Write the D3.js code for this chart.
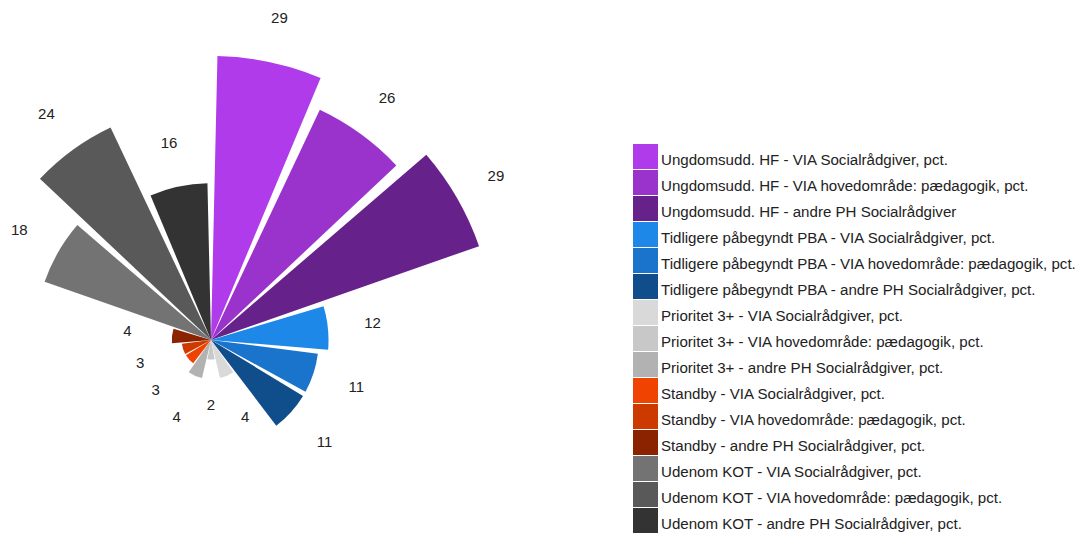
<!DOCTYPE html>
<html>
<head>
<meta charset="utf-8">
<script src="https://cdn.jsdelivr.net/npm/d3@7"></script>
<style>
  body { margin: 0; background: #fff; }
  text { font-family: "Liberation Sans", Arial, sans-serif; }
</style>
</head>
<body>
<svg></svg>
<script>
const categories = [
  "Ungdomsudd. HF - VIA Socialrådgiver, pct.",
  "Ungdomsudd. HF - VIA hovedområde: pædagogik, pct.",
  "Ungdomsudd. HF - andre PH Socialrådgiver",
  "Tidligere påbegyndt PBA - VIA Socialrådgiver, pct.",
  "Tidligere påbegyndt PBA - VIA hovedområde: pædagogik, pct.",
  "Tidligere påbegyndt PBA - andre PH Socialrådgiver, pct.",
  "Prioritet 3+ - VIA Socialrådgiver, pct.",
  "Prioritet 3+ - VIA hovedområde: pædagogik, pct.",
  "Prioritet 3+ - andre PH Socialrådgiver, pct.",
  "Standby - VIA Socialrådgiver, pct.",
  "Standby - VIA hovedområde: pædagogik, pct.",
  "Standby - andre PH Socialrådgiver, pct.",
  "Udenom KOT - VIA Socialrådgiver, pct.",
  "Udenom KOT - VIA hovedområde: pædagogik, pct.",
  "Udenom KOT - andre PH Socialrådgiver, pct."
];
const values = [29, 26, 29, 12, 11, 11, 4, 2, 4, 3, 3, 4, 18, 24, 16];
const colors = [
  "#b03bea", "#9a32cc", "#66228a",
  "#1e88e8", "#1b74cc", "#104e8b",
  "#d9d9d9", "#c8c8c8", "#b2b2b2",
  "#f04200", "#cc3a00", "#8b2200",
  "#737373", "#595959", "#333333"
];

const svg = d3.select("svg").attr("width", 1083).attr("height", 536);
const cx = 211, cy = 340;

const angle = d3.scaleBand()
  .domain(categories)
  .range([0, 2 * Math.PI]);

const radius = d3.scaleLinear()
  .domain([0, 29])
  .range([0, 284]);

const pad = 1.3 * Math.PI / 180;
const arc = d3.arc()
  .innerRadius(0)
  .outerRadius((d, i) => radius(values[i]))
  .startAngle((d) => angle(d) + pad)
  .endAngle((d) => angle(d) + angle.bandwidth() - pad);

const g = svg.append("g").attr("transform", `translate(${cx},${cy})`);

g.selectAll("path")
  .data(categories)
  .enter()
  .append("path")
  .attr("d", arc)
  .attr("fill", (d, i) => colors[i]);

// value labels just outside each wedge
const mid = (d) => angle(d) + angle.bandwidth() / 2;
g.selectAll("text.val")
  .data(categories)
  .enter()
  .append("text")
  .attr("class", "val")
  .attr("x", (d, i) => Math.sin(mid(d)) * (radius(values[i]) + 45))
  .attr("y", (d, i) => -Math.cos(mid(d)) * (radius(values[i]) + 45))
  .attr("text-anchor", "middle")
  .attr("dy", "0.35em")
  .attr("font-size", 15)
  .attr("fill", "#222")
  .text((d, i) => values[i]);

// legend
const row = 26;
const legend = svg.append("g").attr("transform", "translate(633,144)");
const item = legend.selectAll("g")
  .data(categories)
  .enter()
  .append("g")
  .attr("transform", (d, i) => `translate(0,${i * row})`);

item.append("rect")
  .attr("width", 25)
  .attr("height", 25)
  .attr("fill", (d, i) => colors[i]);

item.append("text")
  .attr("x", 28)
  .attr("y", 21)
  .attr("font-size", 15.1)
  .attr("fill", "#222")
  .text((d) => d);
</script>
</body>
</html>
